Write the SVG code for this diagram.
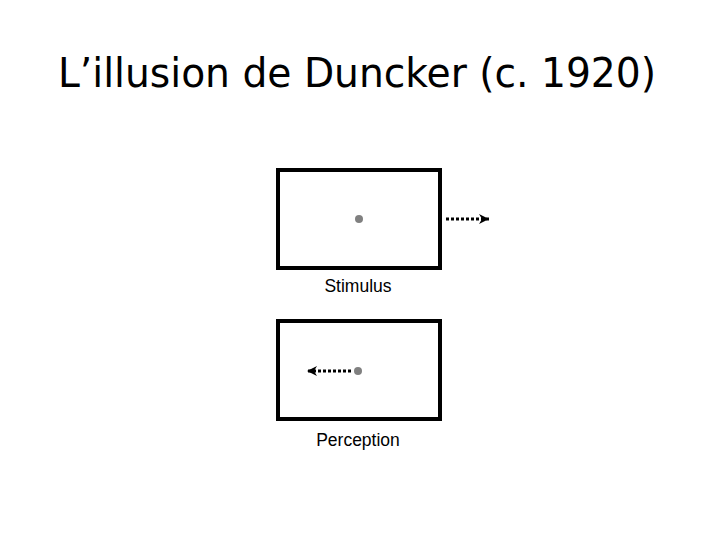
<svg xmlns="http://www.w3.org/2000/svg" width="720" height="540" viewBox="0 0 720 540">
<style>
.box{fill:#fff;stroke:#000;stroke-width:4}
.dot{fill:#808080}
.arr{stroke:#000;stroke-width:3;stroke-dasharray:3 2;fill:none}
.lbl{font-family:"Liberation Sans",Arial,sans-serif;font-size:17.5px;text-anchor:middle;fill:#000}
.title{font-family:"DejaVu Sans Condensed","DejaVu Sans",sans-serif;font-size:40px;text-anchor:middle;fill:#000}
</style>
<defs>
<marker id="ah" viewBox="0 0 10 10" refX="10" refY="5" markerWidth="10" markerHeight="10" markerUnits="userSpaceOnUse" orient="auto">
<path d="M0,0 L10,5 L0,10 L3,5 Z" fill="#000"/>
</marker>
</defs>
<rect width="720" height="540" fill="#fff"/>
<text class="title" x="357" y="87" textLength="598" lengthAdjust="spacingAndGlyphs">L’illusion de Duncker (c. 1920)</text>
<g id="stimulus">
<rect class="box" x="278" y="170" width="162" height="98"/>
<circle class="dot" cx="359" cy="219" r="4"/>
<text class="lbl" x="358" y="292">Stimulus</text>
</g>
<g id="perception">
<rect class="box" x="278" y="321" width="162" height="98"/>
<circle class="dot" cx="358" cy="371" r="4"/>
<text class="lbl" x="358" y="446">Perception</text>
</g>
<g id="connectors">
<line class="arr" x1="446" y1="219" x2="489" y2="219" marker-end="url(#ah)"/>
<line class="arr" x1="351" y1="371" x2="307" y2="371" marker-end="url(#ah)"/>
</g>
</svg>
